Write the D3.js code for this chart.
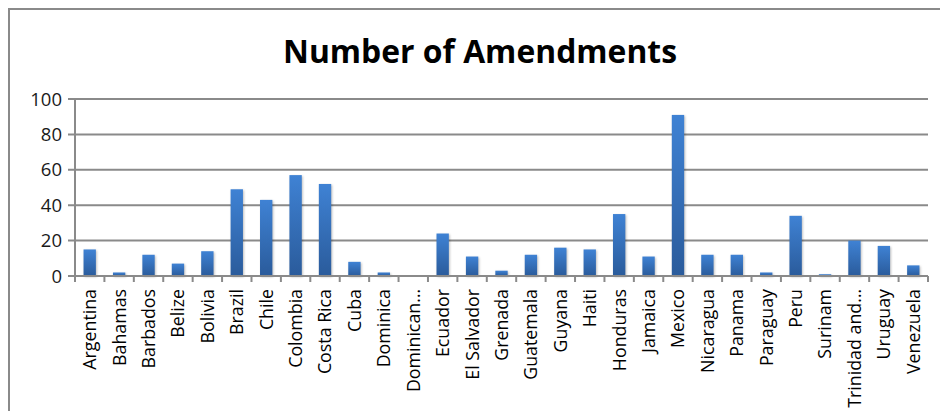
<!DOCTYPE html>
<html>
<head>
<meta charset="utf-8">
<script src="https://cdn.jsdelivr.net/npm/d3@7"></script>
<style>
    body { margin: 0; background: #fff; }
    svg { display: block; font-family: "Open Sans", sans-serif; }
    .grid line { stroke: #8a8a8a; stroke-width: 2; }
</style>
</head>
<body>
<div id="chart"></div>
<script>
// chart data
const countries = ["Argentina", "Bahamas", "Barbados", "Belize", "Bolivia", "Brazil", "Chile",
    "Colombia", "Costa Rica", "Cuba", "Dominica", "Dominican…", "Ecuador", "El Salvador",
    "Grenada", "Guatemala", "Guyana", "Haiti", "Honduras", "Jamaica", "Mexico", "Nicaragua",
    "Panama", "Paraguay", "Peru", "Surinam", "Trinidad and…", "Uruguay", "Venezuela"];
const amendments = [15, 2, 12, 7, 14, 49, 43, 57, 52, 8, 2, 0, 24, 11, 3, 12, 16, 15, 35, 11,
    91, 12, 12, 2, 34, 1, 20, 17, 6];
const yTicks = [0, 20, 40, 60, 80, 100];

const width = 940, height = 411;
const plotLeft = 75, plotRight = 928, plotTop = 99, plotBottom = 276;

let svg = d3.select("#chart").append("svg")
    .attr("width", width)
    .attr("height", height);

let defs = svg.append("defs");
let grad = defs.append("linearGradient")
    .attr("id", "barGrad")
    .attr("x1", 0).attr("y1", 0).attr("x2", 0).attr("y2", 1);
grad.append("stop").attr("offset", "0%").attr("stop-color", "#3f82d4");
grad.append("stop").attr("offset", "100%").attr("stop-color", "#2a5b9b");

// frame (top and left edges only)
svg.append("path")
    .attr("d", "M9," + height + " L9,9 L" + width + ",9")
    .attr("fill", "none")
    .attr("stroke", "#8a8a8a")
    .attr("stroke-width", 2);

// title
svg.append("text")
    .attr("x", 480)
    .attr("y", 63)
    .attr("text-anchor", "middle")
    .attr("font-size", 33)
    .attr("font-weight", "bold")
    .attr("textLength", 394)
    .attr("lengthAdjust", "spacingAndGlyphs")
    .text("Number of Amendments");

let x = d3.scaleBand()
    .domain(countries)
    .range([plotLeft, plotRight])
    .paddingInner(0.58)
    .paddingOuter(0.29);

let y = d3.scaleLinear()
    .domain([0, 100])
    .range([plotBottom, plotTop]);

// gridlines with small left ticks
let grid = svg.append("g").attr("class", "grid");
grid.selectAll("line")
    .data(yTicks)
    .enter().append("line")
    .attr("x1", plotLeft - 7)
    .attr("x2", plotRight)
    .attr("y1", d => y(d))
    .attr("y2", d => y(d));

// y labels
svg.append("g").selectAll("text")
    .data(yTicks)
    .enter().append("text")
    .attr("x", plotLeft - 13)
    .attr("y", d => y(d))
    .attr("dy", "0.36em")
    .attr("text-anchor", "end")
    .attr("font-size", 18.5)
    .attr("fill", "#1a1a1a")
    .text(d => d);

// y axis line
svg.append("line")
    .attr("x1", plotLeft).attr("x2", plotLeft)
    .attr("y1", plotTop).attr("y2", plotBottom + 6)
    .attr("stroke", "#8a8a8a")
    .attr("stroke-width", 2);

// category boundary ticks
let step = x.step();
svg.append("g").selectAll("line")
    .data(d3.range(countries.length + 1))
    .enter().append("line")
    .attr("x1", i => plotLeft + i * step)
    .attr("x2", i => plotLeft + i * step)
    .attr("y1", plotBottom)
    .attr("y2", plotBottom + 6)
    .attr("stroke", "#8a8a8a")
    .attr("stroke-width", 2);

// bars
svg.append("g").selectAll("rect")
    .data(countries)
    .enter().append("rect")
    .attr("x", d => x(d))
    .attr("width", x.bandwidth())
    .attr("y", (d, i) => y(amendments[i]))
    .attr("height", (d, i) => plotBottom - y(amendments[i]))
    .attr("fill", "url(#barGrad)")
    .style("filter", "drop-shadow(1px 1px 1px rgba(0,0,0,0.25))");

// x axis line drawn over bar bottoms
svg.append("line")
    .attr("x1", plotLeft - 7).attr("x2", plotRight)
    .attr("y1", plotBottom).attr("y2", plotBottom)
    .attr("stroke", "#8a8a8a")
    .attr("stroke-width", 2);

// category labels, rotated
svg.append("g").selectAll("text")
    .data(countries)
    .enter().append("text")
    .attr("transform", d => "translate(" + (x(d) + x.bandwidth() / 2) + "," + (plotBottom + 13) + ") rotate(-90)")
    .attr("dy", "0.36em")
    .attr("text-anchor", "end")
    .attr("font-size", 17.8)
    .attr("fill", "#000")
    .text(d => d);
</script>
</body>
</html>
